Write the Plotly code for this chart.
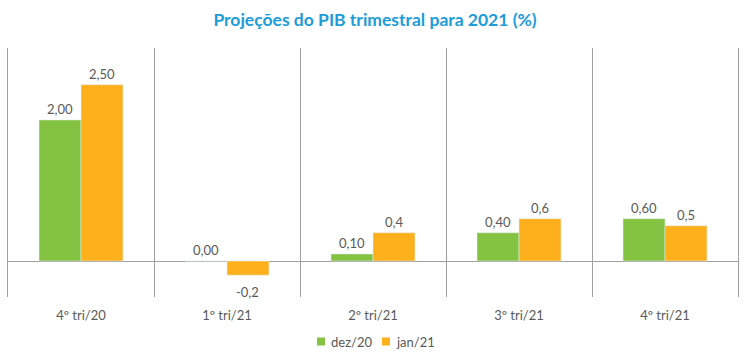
import plotly.graph_objects as go

categories = ["4º tri/20", "1º tri/21", "2º tri/21", "3º tri/21", "4º tri/21"]
dez20 = [2.00, 0.00, 0.10, 0.40, 0.60]
jan21 = [2.50, -0.2, 0.4, 0.6, 0.5]
dez20_labels = ["2,00", "0,00", "0,10", "0,40", "0,60"]
jan21_labels = ["2,50", "-0,2", "0,4", "0,6", "0,5"]
series_names = ["dez/20", "jan/21"]

GREEN = "#84C341"
ORANGE = "#FDB01B"
TEXT = "#595959"
FONT = "Lato"

W, H = 750, 355
ML, MR, MT, MB = 8, 12, 48, 58
BARGAP = 0.425

fig = go.Figure()
fig.add_trace(go.Bar(name=series_names[0], x=categories, y=dez20, marker_color=GREEN))
fig.add_trace(go.Bar(name=series_names[1], x=categories, y=jan21, marker_color=ORANGE))

plot_w = W - ML - MR
plot_h = H - MT - MB
bar_px = plot_w / len(categories) * (1 - BARGAP) / 2
for vals, labs, sign in [(dez20, dez20_labels, -1), (jan21, jan21_labels, 1)]:
    for c, v, t in zip(categories, vals, labs):
        fig.add_annotation(
            x=c, y=v, text=t, showarrow=False,
            xshift=sign * bar_px / 2,
            yanchor="bottom" if v >= 0 else "top",
            yshift=1 if v >= 0 else -7,
            font=dict(family=FONT, size=13, color=TEXT),
        )

# compact legend drawn in paper coordinates
def px2x(px):
    return (px - ML) / plot_w

def py2y(py):
    return (H - MB - py) / plot_h

legend_items = [(series_names[0], GREEN, 317, 329), (series_names[1], ORANGE, 382, 394)]
for name, col, sq_x, tx_x in legend_items:
    fig.add_shape(type="rect", xref="paper", yref="paper",
                  x0=px2x(sq_x), x1=px2x(sq_x + 8), y0=py2y(345.5), y1=py2y(337.5),
                  fillcolor=col, line=dict(width=0))
    fig.add_annotation(xref="paper", yref="paper", x=px2x(tx_x), y=py2y(342),
                       xanchor="left", yanchor="middle", text=name, showarrow=False,
                       font=dict(family=FONT, size=13, color=TEXT))

fig.update_layout(
    width=W, height=H,
    margin=dict(l=ML, r=MR, t=MT, b=MB, autoexpand=False),
    paper_bgcolor="white", plot_bgcolor="white",
    barmode="group", bargap=BARGAP, bargroupgap=0,
    title=dict(text="<b>Projeções do PIB trimestral para 2021 (%)</b>",
               x=0.5, xanchor="center", y=0.944, yanchor="middle",
               font=dict(family=FONT, size=17.5, color="#1C9CD8")),
    font=dict(family=FONT, size=13, color=TEXT),
    showlegend=False,
    xaxis=dict(showgrid=True, gridcolor="#A0A0A0", gridwidth=1, tickson="boundaries",
               ticks="", showline=False, ticklabelstandoff=9, automargin=False,
               range=[-0.5, len(categories) - 0.5],
               tickfont=dict(family=FONT, size=13, color=TEXT)),
    yaxis=dict(range=[-0.51, 3.02], showgrid=False, showticklabels=False, automargin=False,
               showline=True, mirror=True, linecolor="#A0A0A0", linewidth=1,
               zeroline=True, zerolinecolor="#A0A0A0", zerolinewidth=1, ticks=""),
)

fig.write_html("out.html", config={"displayModeBar": False},
               post_script="document.body.style.margin='0';document.body.style.overflow='hidden';")
